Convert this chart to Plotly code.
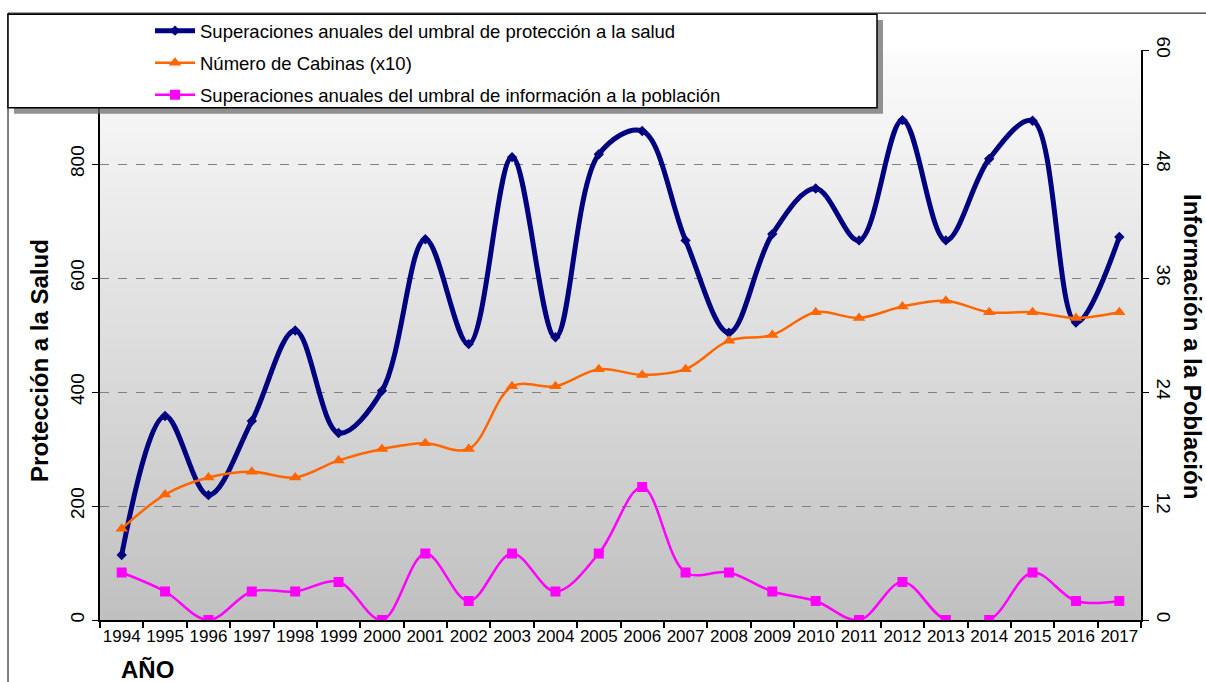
import plotly.graph_objects as go

years = [str(y) for y in range(1994, 2018)]
salud = [114, 358, 219, 349, 508, 328, 402, 668, 484, 812, 496, 817,
         858, 666, 504, 677, 757, 666, 877, 666, 809, 876, 522, 672]
cabinas = [160, 220, 250, 260, 250, 280, 300, 310, 300, 410, 410, 440,
           430, 440, 490, 500, 540, 530, 550, 560, 540, 540, 530, 540]
poblacion = [5, 3, 0, 3, 3, 4, 0, 7, 2, 7, 3, 7,
             14, 5, 5, 3, 2, 0, 4, 0, 0, 5, 2, 2]

name_salud = "Superaciones anuales del umbral de protección a la salud"
name_cab = "Número de Cabinas (x10)"
name_pob = "Superaciones anuales del umbral de información a la población"

left_ticks = [0, 200, 400, 600, 800]
right_ticks = [0, 12, 24, 36, 48, 60]

W, H = 1206, 682
L, R, T, B = 100, 1141, 48, 620


def px(x):
    return (x - L) / (R - L)


def py(y):
    return (B - y) / (B - T)


fig = go.Figure()
fig.add_trace(go.Scatter(
    x=years, y=salud, name=name_salud, mode="lines+markers",
    line=dict(color="#000080", width=5, shape="spline", smoothing=1),
    marker=dict(symbol="diamond", size=8, color="#000080"),
    legendgroup="a"))
fig.add_trace(go.Scatter(
    x=years, y=cabinas, name=name_cab, mode="lines+markers",
    line=dict(color="#FF6600", width=2.5, shape="spline", smoothing=1),
    marker=dict(symbol="triangle-up", size=11, color="#FF6600"),
    legendgroup="b"))
fig.add_trace(go.Scatter(
    x=years, y=poblacion, name=name_pob, mode="lines+markers", yaxis="y2",
    line=dict(color="#FF00FF", width=2.5, shape="spline", smoothing=1),
    marker=dict(symbol="square", size=10, color="#FF00FF"),
    legendgroup="c"))

shapes = []
# gradient background of plot area
N = 90
c_top = (252, 252, 252)
c_bot = (192, 192, 192)
for i in range(N):
    t = (i + 0.5) / N
    c = tuple(round(c_top[k] + (c_bot[k] - c_top[k]) * t) for k in range(3))
    shapes.append(dict(type="rect", xref="x domain", yref="y domain",
                       x0=0, x1=1, y0=1 - (i + 1) / N - 0.002, y1=1 - i / N,
                       fillcolor="rgb(%d,%d,%d)" % c, line=dict(width=0),
                       layer="below"))
# outer chart border
shapes.append(dict(type="line", xref="paper", yref="paper",
                   x0=px(8), x1=px(1210), y0=py(11), y1=py(11),
                   line=dict(color="black", width=1), layer="above"))
shapes.append(dict(type="line", xref="paper", yref="paper",
                   x0=px(8), x1=px(8), y0=py(11), y1=py(690),
                   line=dict(color="black", width=1), layer="above"))
# legend shadow and box
shapes.append(dict(type="rect", xref="paper", yref="paper",
                   x0=px(14), x1=px(883), y0=py(112), y1=py(18),
                   fillcolor="rgba(110,110,110,0.75)", line=dict(width=0),
                   layer="above"))
shapes.append(dict(type="rect", xref="paper", yref="paper",
                   x0=px(8), x1=px(877), y0=py(106), y1=py(12),
                   fillcolor="white", line=dict(color="black", width=1.5),
                   layer="above"))

annotations = [
    dict(text="<b>Protección a la Salud</b>", xref="paper", yref="paper",
         x=px(40), y=py(360), textangle=-90, showarrow=False,
         xanchor="center", yanchor="middle",
         font=dict(size=24, color="black", family="Liberation Sans, Arial")),
    dict(text="<b>Información a la Población</b>", xref="paper", yref="paper",
         x=px(1192), y=py(345), textangle=90, showarrow=False,
         xanchor="center", yanchor="middle",
         font=dict(size=24, color="black", family="Liberation Sans, Arial")),
    dict(text="<b>AÑO</b>", xref="paper", yref="paper",
         x=px(147), y=py(670), showarrow=False,
         xanchor="center", yanchor="middle",
         font=dict(size=24, color="black", family="Liberation Sans, Arial")),
]

fig.update_layout(
    width=W, height=H,
    margin=dict(l=L, r=W - R, t=T, b=H - B),
    paper_bgcolor="white", plot_bgcolor="rgb(192,192,192)",
    font=dict(family="Liberation Sans, Arial", color="black", size=18),
    shapes=shapes, annotations=annotations,
    showlegend=True,
    legend=dict(x=px(150), y=py(10), xanchor="left", yanchor="top",
                bgcolor="rgba(0,0,0,0)", borderwidth=0,
                font=dict(size=18.5, color="black"),
                tracegroupgap=5, itemwidth=40),
    xaxis=dict(type="category", range=[-0.5, 23.5], tickson="boundaries",
               ticks="outside", ticklen=6, tickcolor="black", tickwidth=1.5,
               tickangle=0,
               showline=True, linecolor="black", linewidth=2,
               showgrid=False, tickfont=dict(size=17)),
    yaxis=dict(range=[0, 1000], tickvals=left_ticks, tickangle=-90,
               ticks="outside", ticklen=6, tickcolor="black",
               showline=True, linecolor="black", linewidth=2,
               showgrid=False, zeroline=False, tickfont=dict(size=19)),
    yaxis2=dict(range=[0, 60], tickvals=right_ticks, tickangle=90,
                overlaying="y", side="right",
                ticks="outside", ticklen=6, tickcolor="black",
                showline=True, linecolor="black", linewidth=2,
                showgrid=True, gridcolor="#808080", griddash="dash",
                gridwidth=1, zeroline=False, tickfont=dict(size=19)),
)

fig.write_html("out.html")
